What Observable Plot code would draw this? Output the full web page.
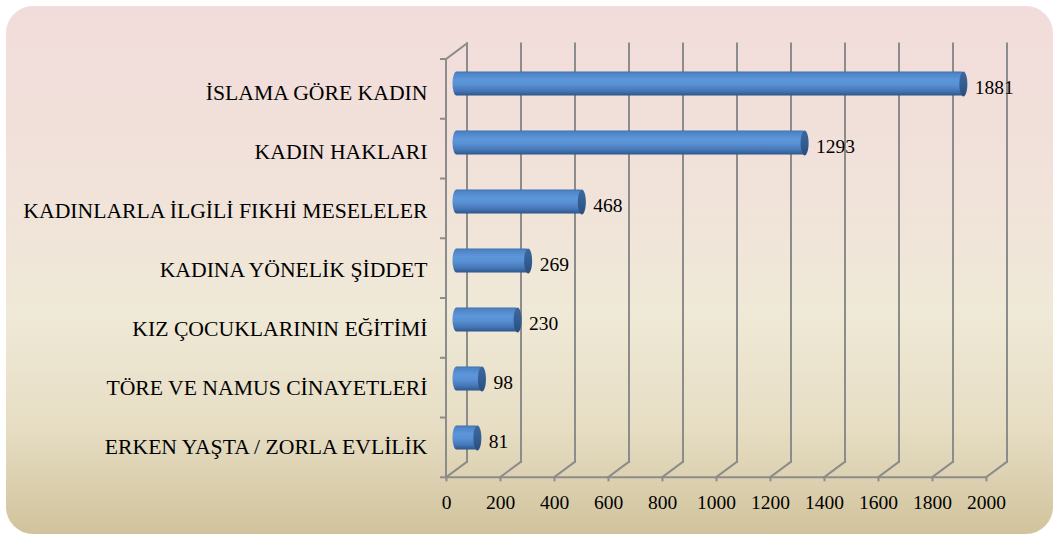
<!DOCTYPE html>
<html>
<head>
<meta charset="utf-8">
<script src="https://cdn.jsdelivr.net/npm/d3@7"></script>
<script src="https://cdn.jsdelivr.net/npm/@observablehq/plot@0.6"></script>
<style>
  html, body { margin: 0; padding: 0; background: #ffffff; }
  #wrap { position: relative; width: 1057px; height: 536px; overflow: hidden; }
  #bg {
    position: absolute; left: 6px; top: 6px; width: 1047px; height: 528px;
    border-radius: 27px;
    background: linear-gradient(to bottom, #f2dcdb 0%, #f1e2da 33%, #efe9d7 58%, #e6ddc3 80%, #d1c39c 100%);
  }
  #chart { position: absolute; left: 0; top: 0; }
</style>
</head>
<body>
<div id="wrap"><div id="bg"></div><div id="chart"></div></div>
<script>
// ---- data ----
const categories = [
  "İSLAMA GÖRE KADIN",
  "KADIN HAKLARI",
  "KADINLARLA İLGİLİ FIKHİ MESELELER",
  "KADINA YÖNELİK ŞİDDET",
  "KIZ ÇOCUKLARININ EĞİTİMİ",
  "TÖRE VE NAMUS CİNAYETLERİ",
  "ERKEN YAŞTA / ZORLA EVLİLİK"
];
const values = [1881, 1293, 468, 269, 230, 98, 81];
const xTicks = [0, 200, 400, 600, 800, 1000, 1200, 1400, 1600, 1800, 2000];

const data = categories.map((c, i) => ({cat: c, value: values[i]}));

// 3D depth offsets (pixels): back wall relative to front
const DX = 21, DY = -15.6;
// bars sit at mid depth
const BDX = DX / 2, BDY = -8;
const serif = "'Liberation Serif', 'Times New Roman', serif";
const gridColor = "#8c8c8c";

function gridMark(index, scales, values, dimensions) {
  const {x} = scales;
  const {width, height, marginTop, marginBottom} = dimensions;
  const top = marginTop, bottom = height - marginBottom;
  const g = d3.create("svg:g");
  const defs = g.append("defs");
  const cyl = defs.append("linearGradient").attr("id", "cylGrad")
    .attr("x1", 0).attr("y1", 0).attr("x2", 0).attr("y2", 1);
  [[0, "#3f6fae"], [0.08, "#4d84c6"], [0.35, "#5d96da"], [0.55, "#5890d3"],
   [0.8, "#4677b7"], [0.94, "#34609a"], [1, "#2b5284"]]
    .forEach(([o, c]) => cyl.append("stop").attr("offset", o).attr("stop-color", c));
  const cap = defs.append("linearGradient").attr("id", "capGrad")
    .attr("x1", 0).attr("y1", 0).attr("x2", 0).attr("y2", 1);
  [[0, "#3d679f"], [0.5, "#345d92"], [1, "#2a4e7c"]]
    .forEach(([o, c]) => cap.append("stop").attr("offset", o).attr("stop-color", c));

  const lines = g.append("g").attr("stroke", gridColor).attr("stroke-width", 2)
    .attr("fill", "none").attr("stroke-linecap", "square");
  const line = (x1, y1, x2, y2) => lines.append("line")
    .attr("x1", x1).attr("y1", y1).attr("x2", x2).attr("y2", y2);
  for (const v of xTicks) {
    const fx = x(v);
    line(fx + DX, top + DY, fx + DX, bottom + DY);      // back wall vertical
    line(fx, bottom, fx + DX, bottom + DY);             // floor diagonal
  }
  const x0 = x(0);
  line(x0, top, x0, bottom);                            // left wall front edge
  line(x0, top, x0 + DX, top + DY);                     // left wall top edge
  line(x0, bottom, x(2000), bottom);                    // floor front edge
  const n = categories.length, step = (bottom - top) / n;
  for (let i = 0; i <= n; i++) {
    const yy = top + i * step;
    line(x0 - 5, yy, x0, yy);                           // category ticks
  }
  return g.node();
}

const ellipse = {
  draw(ctx) {
    const rx = 4, ry = 12.5, k = 0.5523;
    ctx.moveTo(rx, 0);
    ctx.bezierCurveTo(rx, ry * k, rx * k, ry, 0, ry);
    ctx.bezierCurveTo(-rx * k, ry, -rx, ry * k, -rx, 0);
    ctx.bezierCurveTo(-rx, -ry * k, -rx * k, -ry, 0, -ry);
    ctx.bezierCurveTo(rx * k, -ry, rx, -ry * k, rx, 0);
    ctx.closePath();
  }
};

const chart = Plot.plot({
  width: 1057,
  height: 536,
  marginLeft: 446,
  marginRight: 71,
  marginTop: 59,
  marginBottom: 58.7,
  style: {background: "transparent", fontFamily: serif, color: "#000", overflow: "visible"},
  x: {domain: [0, 2000], label: null},
  y: {domain: categories, padding: 0, label: null},
  marks: [
    gridMark,
    Plot.axisX({ticks: xTicks, tickSize: 4, tickPadding: 13, stroke: gridColor, strokeWidth: 2,
      fill: "#000", fontSize: 19.5, fontFamily: serif, label: null, tickFormat: d => String(d)}),
    Plot.axisY({tickSize: 0, tickPadding: 19, fill: "#000", fontSize: 21.7, fontFamily: serif,
      label: null, dy: 1}),
    Plot.barX(data, {
      x1: () => 0, x2: "value", y: "cat",
      dx: BDX, dy: BDY,
      insetTop: 17.4, insetBottom: 17.4, insetLeft: -4, insetRight: -1,
      rx: 4, ry: 12.5,
      fill: "url(#cylGrad)"
    }),
    Plot.dot(data, {
      x: "value", y: "cat", dx: BDX - 1.5, dy: BDY,
      symbol: ellipse, r: 5, fill: "url(#capGrad)", stroke: "none"
    }),
    Plot.text(data, {
      x: "value", y: "cat", text: d => String(d.value),
      dx: 20.5, dy: -4.5, textAnchor: "start",
      fontSize: 19.5, fontFamily: serif, fill: "#000"
    })
  ]
});
document.getElementById("chart").append(chart);
</script>
</body>
</html>
